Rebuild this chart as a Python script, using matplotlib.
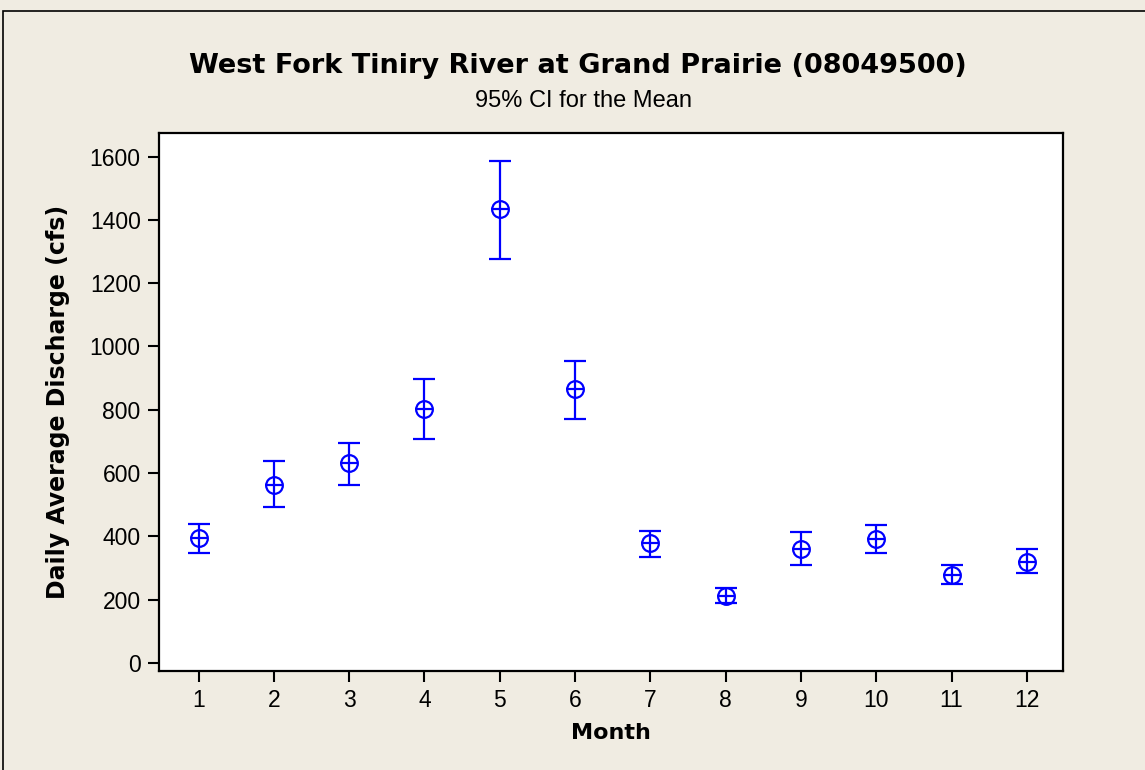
import numpy as np
import matplotlib
matplotlib.use("Agg")
import matplotlib.pyplot as plt
from matplotlib.patches import Rectangle

# 数据：月份、均值、95%置信区间上下限
months = [1, 2, 3, 4, 5, 6, 7, 8, 9, 10, 11, 12]
mean_q = [393, 562, 632, 803, 1434, 865, 378, 212, 360, 391, 277, 319]
upper_ci = [438, 639, 696, 898, 1587, 955, 417, 237, 412, 436, 310, 360]
lower_ci = [348, 493, 563, 707, 1277, 771, 335, 190, 310, 347, 248, 285]
y_ticks = [0, 200, 400, 600, 800, 1000, 1200, 1400, 1600]

plt.rcParams['font.family'] = ['Liberation Sans', 'DejaVu Sans']
bg = '#F0ECE2'
blue = '#0000FF'
W, H = 1145, 770

fig = plt.figure(figsize=(W / 100, H / 100), dpi=100, facecolor=bg)
ax = fig.add_axes([158.7 / W, 1 - 671 / H, (1063 - 158.7) / W, (671 - 133) / H])

# 外边框
fig.patches.append(Rectangle((3 / W, -0.1), 1.2, (H - 11) / H + 0.1,
                             transform=fig.transFigure, fill=False,
                             edgecolor='black', linewidth=1.2))

m = np.array(mean_q)
yerr = [m - np.array(lower_ci), np.array(upper_ci) - m]
ax.errorbar(months, mean_q, yerr=yerr, fmt='none', ecolor=blue,
            elinewidth=1.6, capsize=8, capthick=1.6)
ax.plot(months, mean_q, 'o', mfc='none', mec=blue, mew=1.6, ms=12)
ax.plot(months, mean_q, '_', color=blue, mew=1.6, ms=13)

ax.set_xlim(0.47, 12.48)
ax.set_ylim(-26, 1675)
ax.set_xticks(months)
ax.set_yticks(y_ticks)
ax.tick_params(direction='out', length=8, width=1.5, labelsize=16.5, pad=5)
for s in ax.spines.values():
    s.set_linewidth(1.6)

ax.set_xlabel('Month', fontsize=16, fontweight='bold', family='DejaVu Sans')
ax.xaxis.set_label_coords(0.5, 1 - (733 - 133) / (671 - 133))
ax.xaxis.label.set_va('center')
ax.set_ylabel('Daily Average Discharge (cfs)', fontsize=17, fontweight='bold',
              family='DejaVu Sans')
ax.yaxis.set_label_coords((58 - 158.7) / (1063 - 158.7), 0.5)
ax.yaxis.label.set_va('center')

fig.text(578 / W, 1 - 66 / H, 'West Fork Tiniry River at Grand Prairie (08049500)',
         ha='center', va='center', fontsize=19.5, fontweight='bold', family='DejaVu Sans')
fig.text(583 / W, 1 - 101 / H, '95% CI for the Mean', ha='center', va='center', fontsize=17)

fig.savefig('out.png', dpi=100, facecolor=bg)
